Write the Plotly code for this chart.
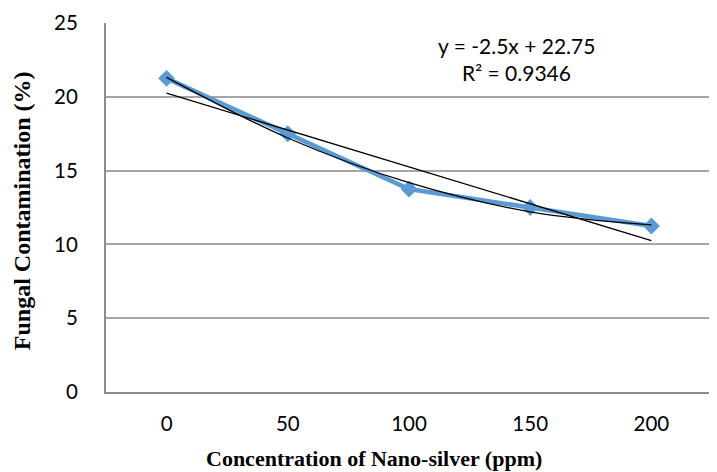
import plotly.graph_objects as go

categories = ["0", "50", "100", "150", "200"]
contamination = [21.25, 17.5, 13.75, 12.5, 11.25]
# linear trendline y = -2.5x + 22.75 (x = 1..5), as shown on the chart
linear_trend = [20.25, 17.75, 15.25, 12.75, 10.25]
# smooth (polynomial) trendline
poly_trend = [21.32, 17.21, 14.18, 12.21, 11.32]
y_ticks = [0, 5, 10, 15, 20, 25]

tick_font = dict(family="Lato, sans-serif", size=20.5, color="black")
eq_font = dict(family="Lato, sans-serif", size=21, color="black")
title_font = "Liberation Serif, Times New Roman, serif"

fig = go.Figure()
fig.add_trace(go.Scatter(
    x=categories, y=contamination, mode="lines+markers",
    line=dict(color="#5B9BD5", width=4.5),
    marker=dict(symbol="diamond", size=13, color="#5B9BD5"),
    showlegend=False))
fig.add_trace(go.Scatter(
    x=categories, y=poly_trend, mode="lines",
    line=dict(color="black", width=1.3, shape="spline", smoothing=1.0),
    showlegend=False))
fig.add_trace(go.Scatter(
    x=categories, y=linear_trend, mode="lines",
    line=dict(color="black", width=1.3),
    showlegend=False))

fig.add_annotation(x=0.677, y=0.94, xref="paper", yref="paper",
                   text="y = -2.5x + 22.75", showarrow=False,
                   font=eq_font, xanchor="center", yanchor="middle")
fig.add_annotation(x=0.677, y=0.865, xref="paper", yref="paper",
                   text="R² = 0.9346", showarrow=False,
                   font=eq_font, xanchor="center", yanchor="middle")

# axis titles
fig.add_annotation(x=-0.1386, y=0.49, xref="paper", yref="paper",
                   text="<b>Fungal Contamination (%)</b>", showarrow=False, textangle=-90,
                   font=dict(family=title_font, size=24, color="black"),
                   xanchor="center", yanchor="middle")
fig.add_annotation(x=0.442, y=-0.18, xref="paper", yref="paper",
                   text="<b>Concentration of Nano-silver (ppm)</b>", showarrow=False,
                   font=dict(family=title_font, size=22, color="black"),
                   xanchor="center", yanchor="middle")

fig.update_layout(
    width=709, height=464,
    margin=dict(l=98, r=5, t=15, b=80),
    plot_bgcolor="white", paper_bgcolor="white",
    xaxis=dict(
        type="category", range=[-0.5, 4.5], automargin=False,
        showgrid=False, showline=True, linecolor="#8c8c8c", linewidth=2,
        ticks="", tickfont=tick_font, ticklabelstandoff=12,
    ),
    yaxis=dict(
        range=[0, 25], tickvals=y_ticks, automargin=False,
        showgrid=True, gridcolor="#a6a6a6", gridwidth=1.5,
        showline=True, linecolor="#8c8c8c", linewidth=2,
        zeroline=False, ticks="",
        tickfont=tick_font, ticklabelstandoff=22,
    ),
)

fig.write_html("out.html")
